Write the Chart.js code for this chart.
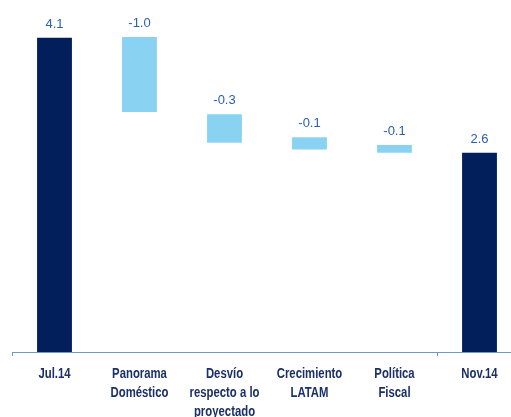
<!DOCTYPE html>
<html>
<head>
<meta charset="utf-8">
<script src="https://cdn.jsdelivr.net/npm/chart.js@4/dist/chart.umd.min.js"></script>
<style>
  html, body { margin: 0; padding: 0; background: #fff; overflow: hidden; }
  #wrap { width: 522px; height: 417px; }
</style>
</head>
<body>
<div id="wrap"><canvas id="myChart" width="522" height="417"></canvas></div>
<script>
// categories (multi-line tick labels)
const categories = [
    "Jul.14",
    ["Panorama", "Doméstico"],
    ["Desvío", "respecto a lo", "proyectado"],
    ["Crecimiento", "LATAM"],
    ["Política", "Fiscal"],
    "Nov.14"
];

// contribution shown above each bar
const changes = [4.1, -1.0, -0.3, -0.1, -0.1, 2.6];

// bottom and top of each (floating) bar
const barLow = [0, 3.13, 2.73, 2.64, 2.60, 0];
const barHigh = [4.1, 4.11, 3.10, 2.80, 2.70, 2.6];

const navy = "#021f5c";
const lightBlue = "#8ad2f2";
const barColors = changes.map((v, i) => (i === 0 || i === changes.length - 1) ? navy : lightBlue);

// value labels above bars
const valueLabels = {
    id: "valueLabels",
    afterDatasetsDraw(chart) {
        const ctx = chart.ctx;
        const meta = chart.getDatasetMeta(0);
        const yScale = chart.scales.y;
        ctx.save();
        ctx.font = "13px 'Liberation Sans', Arial, sans-serif";
        ctx.fillStyle = "#2b60b0";
        ctx.textAlign = "center";
        ctx.textBaseline = "bottom";
        meta.data.forEach((bar, i) => {
            const top = yScale.getPixelForValue(barHigh[i]);
            ctx.fillText(changes[i].toFixed(1), bar.x, top - 7);
        });
        ctx.restore();
    }
};

// category labels, squeezed a bit so they look like the narrow original font
const catLabels = {
    id: "catLabels",
    afterDraw(chart) {
        const ctx = chart.ctx;
        const xScale = chart.scales.x;
        ctx.save();
        ctx.font = "bold 14px 'Liberation Sans', Arial, sans-serif";
        ctx.fillStyle = "#1b2f68";
        ctx.textAlign = "center";
        ctx.textBaseline = "alphabetic";
        categories.forEach((cat, i) => {
            const lines = Array.isArray(cat) ? cat : [cat];
            const x = xScale.getPixelForTick(i);
            lines.forEach((line, j) => {
                ctx.save();
                ctx.translate(x, xScale.top + 26 + j * 19);
                ctx.scale(0.81, 1);
                ctx.fillText(line, 0, 0);
                ctx.restore();
            });
        });
        ctx.restore();
    }
};

const ctx = document.getElementById("myChart").getContext("2d");

const myChart = new Chart(ctx, {
    type: "bar",
    data: {
        labels: categories,
        datasets: [{
            data: barLow.map((lo, i) => [lo, barHigh[i]]),
            backgroundColor: barColors,
            borderWidth: 0,
            barPercentage: 0.41,
            categoryPercentage: 1
        }]
    },
    options: {
        responsive: false,
        animation: false,
        layout: { padding: { left: 12, top: 7, right: 0, bottom: 0 } },
        plugins: {
            legend: { display: false },
            tooltip: { enabled: false }
        },
        scales: {
            x: {
                offset: true,
                afterFit: (scale) => { scale.height = 65; },
                border: { display: true, color: "#6f98cc", width: 1 },
                grid: {
                    drawOnChartArea: false,
                    tickLength: 4,
                    color: (c) => (c.index === 0 || c.index === 5) ? "#6f98cc" : "rgba(0,0,0,0)"
                },
                ticks: { display: false }
            },
            y: {
                display: false,
                min: 0,
                max: 4.5
            }
        }
    },
    plugins: [valueLabels, catLabels]
});
</script>
</body>
</html>
